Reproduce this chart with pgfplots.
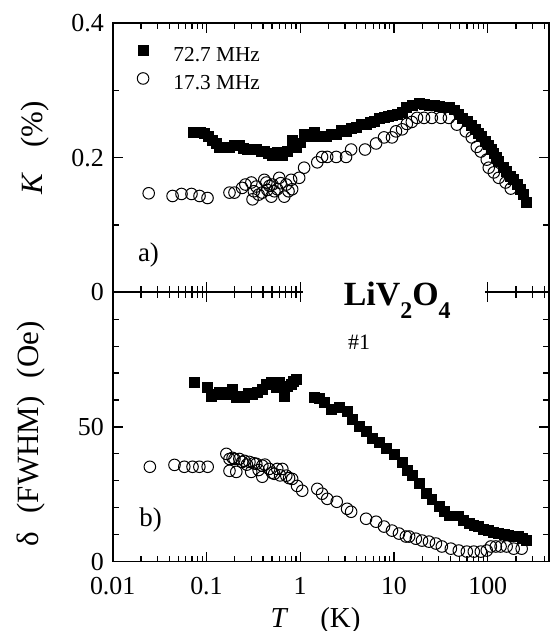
\documentclass[border=0pt]{standalone}
\usepackage{fontspec}
\setmainfont{Liberation Serif}
\usepackage{pgfplots}
\pgfplotsset{compat=1.18}

\pgfplotstableread{
T K
0.073 0.238
0.085 0.237
0.095 0.236
0.105 0.232
0.116 0.226
0.127 0.221
0.137 0.216
0.155 0.216
0.176 0.216
0.20 0.218
0.224 0.219
0.25 0.214
0.273 0.213
0.30 0.212
0.34 0.212
0.38 0.210
0.414 0.209
0.46 0.207
0.504 0.204
0.57 0.208
0.644 0.204
0.72 0.210
0.822 0.226
0.906 0.216
1.0 0.222
1.10 0.234
1.25 0.232
1.41 0.237
1.65 0.231
1.89 0.231
2.15 0.234
2.42 0.235
2.75 0.240
3.08 0.239
3.5 0.244
3.94 0.245
4.5 0.250
5.04 0.249
5.6 0.253
6.12 0.254
7.0 0.258
7.83 0.260
8.6 0.262
9.52 0.263
10.8 0.265
12.2 0.268
13.4 0.274
15.5 0.278
18.5 0.281
21 0.279
23.6 0.278
27 0.277
30.1 0.276
34 0.274
38.5 0.274
44 0.271
49.1 0.264
54 0.258
59.8 0.254
67 0.248
74.5 0.242
80 0.236
86.3 0.231
95 0.224
102.5 0.219
110 0.212
116 0.206
124 0.200
131 0.194
145 0.186
159 0.179
175 0.172
189 0.168
205 0.160
225 0.153
242 0.145
260 0.133
}\Ksq

\pgfplotstableread{
T K
0.0242 0.147
0.0435 0.143
0.0542 0.146
0.0692 0.146
0.0843 0.143
0.1026 0.140
0.176 0.148
0.199 0.148
0.24 0.155
0.26 0.160
0.301 0.163
0.310 0.138
0.32 0.150
0.340 0.157
0.36 0.145
0.394 0.148
0.414 0.167
0.435 0.163
0.446 0.152
0.47 0.158
0.492 0.142
0.504 0.160
0.53 0.150
0.569 0.153
0.597 0.170
0.62 0.162
0.676 0.142
0.71 0.160
0.75 0.150
0.80 0.167
0.82 0.153
0.975 0.170
1.10 0.185
1.52 0.193
1.71 0.201
1.94 0.201
2.42 0.201
3.08 0.201
3.49 0.212
4.91 0.212
6.44 0.221
7.83 0.230
9.52 0.230
10.5 0.239
12.2 0.242
13.7 0.250
15.5 0.253
17.6 0.259
20.9 0.259
25.3 0.259
31.6 0.259
38.5 0.259
46.8 0.249
58.3 0.239
67.6 0.230
76.4 0.216
84.3 0.209
97.6 0.197
102.5 0.185
116 0.178
131 0.170
155 0.163
176 0.154
}\Kci

\pgfplotstableread{
T D
0.075 66.7
0.1026 64.8
0.113 61.5
0.125 62
0.137 63
0.150 62
0.163 62.2
0.176 63
0.189 64
0.208 61.1
0.23 61.5
0.253 61.1
0.28 62.5
0.310 62.2
0.35 63
0.394 64
0.435 66
0.492 66.7
0.556 64.8
0.597 66.7
0.676 61.5
0.73 65
0.80 66
0.85 67
0.906 67.8
1.41 61.1
1.60 60.5
1.80 59.3
2.14 56.7
2.60 57.4
3.16 55.9
3.56 53
4.25 50.4
5.04 48.5
5.83 45.6
6.92 44.4
8.22 41.9
10 40
12.2 37
13.7 34
15.5 31.9
18.5 28.9
21.9 25.2
25.3 23.3
30.1 20.7
34 18.5
38.5 17
43 17
49.1 17
55 15.5
62.8 14.1
71 13.5
80.2 13
90 12
102.5 11.5
115 11
131 10.4
150 10
167 9.6
190 9.5
214 9.3
235 8.5
260 7.8
}\Dsq

\pgfplotstableread{
T D
0.0249 35.2
0.0456 35.9
0.058 35.2
0.071 35.2
0.084 35.2
0.103 35.2
0.163 40
0.176 38.1
0.176 33.7
0.19 38.5
0.199 38.1
0.208 33.3
0.224 38.1
0.24 37
0.254 37.4
0.27 36
0.287 37
0.30 33.3
0.320 36.5
0.340 36.3
0.36 34
0.394 35.6
0.394 31.5
0.42 36
0.466 34.4
0.50 33
0.528 32.6
0.569 34.4
0.61 32
0.644 34.4
0.71 31.9
0.76 31
0.82 30.7
0.925 28.1
1.05 26.3
1.52 27
1.71 25.2
1.94 23.3
2.45 22.2
3.16 19.6
3.49 18.5
5.04 15.9
6.44 14.8
7.83 13
9.52 11.5
11.3 10.4
13.4 9.3
14.5 9.3
17.1 8.5
19.9 7.8
23.6 7.4
28 6.7
32.4 5.6
40.4 4.8
49.1 4.1
59.8 3.7
71 3.7
84.3 3.7
97.6 4.1
108 5.6
122 5.6
137 5.6
159 5.6
189 4.8
230 4.8
}\Dci

\begin{document}
\begin{tikzpicture}
% top panel
\begin{axis}[
  xmode=log, xmin=0.01, xmax=450,
  scale only axis, width=218.7pt, height=135pt,
  axis line style={line width=0.8pt},
  major tick length=5pt, minor tick length=3pt,
  tick align=inside,
  tick style={line width=0.6pt, black},
  xtick={0.01,0.1,1,10,100},
  minor xtick={0.02,0.03,0.04,0.05,0.06,0.07,0.08,0.09,0.2,0.3,0.4,0.5,0.6,0.7,0.8,0.9,2,3,4,5,6,7,8,9,20,30,40,50,60,70,80,90,200,300,400},
  ticklabel style={font=\fontsize{13}{15}\selectfont, inner sep=1pt},
  yticklabel style={xshift=-3.3pt},
  label style={font=\fontsize{15.5}{18}\selectfont},
  at={(0,135pt)}, anchor=south west,
  xticklabels={},
  ymin=0, ymax=0.4,
  ytick={0,0.2,0.4}, yticklabels={0,0.2,0.4},
  minor ytick={0.1,0.3},
  ylabel={\textit{K}\hspace{0.8em}(\%)},
  ylabel style={at={(axis description cs:-0.178,0.537)}, anchor=center},
  legend style={draw=none, fill=none, inner sep=0pt, outer sep=0pt,
    at={(axis description cs:0.055,0.922)}, anchor=north west,
    font=\fontsize{10.7}{12}\selectfont, row sep=0pt, column sep=0pt,
    nodes={inner sep=0pt, text height=9pt, text depth=5pt}},
  legend cell align=left,
  legend image code/.code={\draw[#1] plot coordinates {(0pt,3.7pt)}; \path (-3pt,3.7pt) (15pt,3.7pt);},
  /pgf/number format/assume math mode=true,
]
\addplot[only marks, mark=square*, mark size=2.5pt, mark options={fill=black, draw=black, line width=0.3pt}] table[x=T,y=K] {\Ksq};
\addlegendentry{72.7 MHz}
\addplot[only marks, mark=o, mark size=2.9pt, mark options={fill=white, draw=black, line width=0.5pt}] table[x=T,y=K] {\Kci};
\addlegendentry{17.3 MHz}
\node[font=\fontsize{13.5}{15}\selectfont] at (axis description cs:0.082,0.137) {a)};
\end{axis}
% bottom panel
\begin{axis}[
  xmode=log, xmin=0.01, xmax=450,
  scale only axis, width=218.7pt, height=135pt,
  axis line style={line width=0.8pt},
  major tick length=5pt, minor tick length=3pt,
  tick align=inside,
  tick style={line width=0.6pt, black},
  xtick={0.01,0.1,1,10,100},
  minor xtick={0.02,0.03,0.04,0.05,0.06,0.07,0.08,0.09,0.2,0.3,0.4,0.5,0.6,0.7,0.8,0.9,2,3,4,5,6,7,8,9,20,30,40,50,60,70,80,90,200,300,400},
  ticklabel style={font=\fontsize{13}{15}\selectfont, inner sep=1pt},
  xticklabel style={yshift=-6.8pt},
  yticklabel style={xshift=-3.3pt},
  label style={font=\fontsize{15.5}{18}\selectfont},
  at={(0,0)}, anchor=south west,
  xticklabels={0.01,0.1,1,10,100},
  ymin=0, ymax=100,
  ytick={0,50,100}, yticklabels={0,50,{}},
  minor ytick={10,20,30,40,60,70,80,90},
  ylabel={δ\hspace{0.6em}(FWHM)\hspace{0.6em}(Oe)},
  ylabel style={at={(axis description cs:-0.188,0.474)}, anchor=center},
  xlabel={\textit{T}\hspace{1.1em}(K)},
  xlabel style={at={(axis description cs:0.465,-0.219)}, anchor=center, font=\fontsize{14.5}{17}\selectfont},
  /pgf/number format/assume math mode=true,
]
\addplot[only marks, mark=square*, mark size=2.5pt, mark options={fill=black, draw=black, line width=0.3pt}] table[x=T,y=D] {\Dsq};
\addplot[only marks, mark=o, mark size=2.9pt, mark options={fill=white, draw=black, line width=0.5pt}] table[x=T,y=D] {\Dci};
\node[font=\fontsize{13.5}{15}\selectfont] at (axis description cs:0.087,0.156) {b)};
\node[font=\fontsize{11}{12}\selectfont] at (axis description cs:0.565,0.815) {\#1};
\coordinate (A) at (axis cs:1.07,100);
\coordinate (B) at (axis cs:93,100);
\coordinate (C) at (axis description cs:0.652,1);
\end{axis}
\fill[white] ([yshift=-7pt]A) rectangle ([yshift=7pt]B);
\node[anchor=base, inner sep=0pt, font=\bfseries\fontsize{17}{20}\selectfont] at ([yshift=-6.5pt]C)
  {LiV\raisebox{-0.38em}{\fontsize{12}{12}\selectfont 2}O\raisebox{-0.38em}{\fontsize{12}{12}\selectfont 4}};
\pgfresetboundingbox
\path[use as bounding box] (-56.5pt,-34.8pt) rectangle (219.2pt,281.5pt);
\end{tikzpicture}
\end{document}
